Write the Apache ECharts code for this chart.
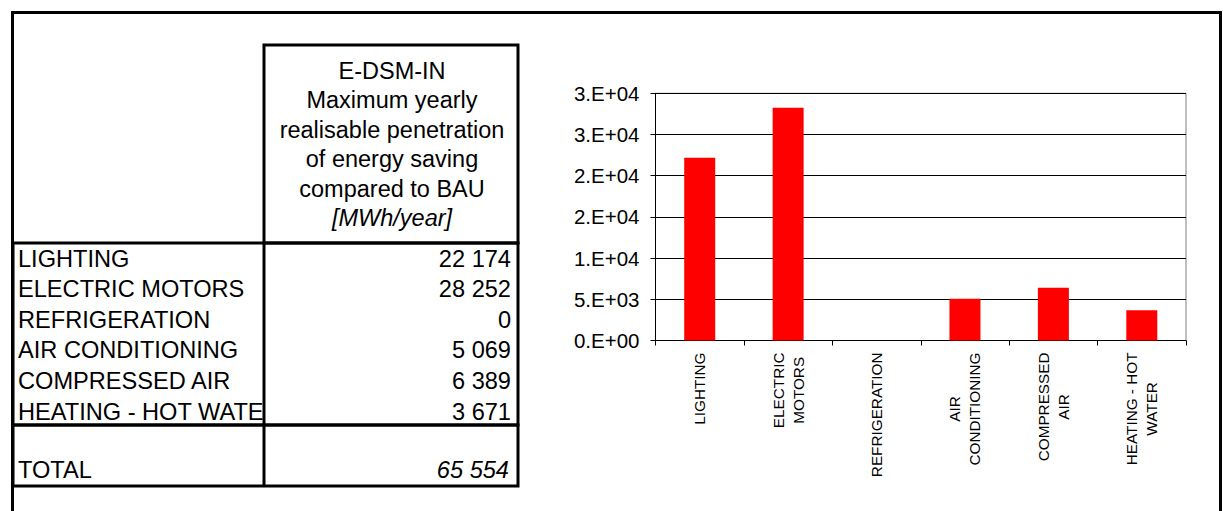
<!DOCTYPE html>
<html>
<head>
<meta charset="utf-8">
<script src="https://cdn.jsdelivr.net/npm/echarts@6/dist/echarts.min.js"></script>
<style>
html,body{margin:0;padding:0;background:#fff;}
#chart{width:1223px;height:511px;}
</style>
</head>
<body>
<div id="chart"></div>
<script>
// ---- data ----
var rowLabels = ['LIGHTING', 'ELECTRIC MOTORS', 'REFRIGERATION', 'AIR CONDITIONING', 'COMPRESSED AIR', 'HEATING - HOT WATER'];
var categories = ['LIGHTING', 'ELECTRIC\nMOTORS', 'REFRIGERATION', 'AIR\nCONDITIONING', 'COMPRESSED\nAIR', 'HEATING - HOT\nWATER'];
var values = [22174, 28252, 0, 5069, 6389, 3671];
var totalLabel = 'TOTAL';
var totalValue = 65554;
var headerLines = ['E-DSM-IN', 'Maximum yearly', 'realisable penetration', 'of energy saving', 'compared to BAU', '[MWh/year]'];
var yTickLabels = ['0.E+00', '5.E+03', '1.E+04', '2.E+04', '2.E+04', '3.E+04', '3.E+04'];

var FONT = "'Liberation Sans', Arial, sans-serif";

function fmt(v) {
  return String(v).replace(/\B(?=(\d{3})+(?!\d))/g, ' ');
}

// ---- table graphics ----
var g = [];
g.push({type: 'rect', shape: {x: 12.5, y: 12.5, width: 1208, height: 600}, style: {fill: null, stroke: '#000', lineWidth: 3}, z: 1});
g.push({type: 'rect', shape: {x: 264, y: 45, width: 254, height: 198}, style: {fill: null, stroke: '#000', lineWidth: 3}, z: 2});
g.push({type: 'rect', shape: {x: 13, y: 243, width: 505, height: 182}, style: {fill: null, stroke: '#000', lineWidth: 3}, z: 2});
g.push({type: 'rect', shape: {x: 13, y: 425, width: 505, height: 61}, style: {fill: null, stroke: '#000', lineWidth: 3}, z: 2});
g.push({type: 'line', shape: {x1: 264, y1: 243, x2: 264, y2: 486}, style: {stroke: '#000', lineWidth: 3}, z: 3});

headerLines.forEach(function (t, i) {
  g.push({
    type: 'text', x: 392, y: 70.5 + i * 29.5, z: 4,
    style: {text: t, font: (i === headerLines.length - 1 ? 'italic ' : '') + '23.5px ' + FONT,
      fill: '#000', align: 'center', verticalAlign: 'middle'}
  });
});

rowLabels.forEach(function (t, i) {
  var y = 258.5 + i * 30.6;
  g.push({
    type: 'text', x: 18, y: y, z: 4,
    style: {text: t, font: '23.6px ' + FONT, fill: '#000', align: 'left', verticalAlign: 'middle',
      width: 247, overflow: 'truncate', ellipsis: ''}
  });
  g.push({
    type: 'text', x: 511, y: y, z: 4,
    style: {text: fmt(values[i]), font: '23.6px ' + FONT, fill: '#000', align: 'right', verticalAlign: 'middle'}
  });
});
g.push({type: 'text', x: 18, y: 470, z: 4,
  style: {text: totalLabel, font: '23.6px ' + FONT, fill: '#000', align: 'left', verticalAlign: 'middle'}});
g.push({type: 'text', x: 509, y: 470, z: 4,
  style: {text: fmt(totalValue), font: 'italic 23.6px ' + FONT, fill: '#000', align: 'right', verticalAlign: 'middle'}});

// ---- chart ----
var chart = echarts.init(document.getElementById('chart'), null, {renderer: 'svg'});
chart.setOption({
  animation: false,
  backgroundColor: '#fff',
  textStyle: {fontFamily: FONT},
  grid: {left: 655.5, right: 37, top: 93.3, bottom: 170.5, show: true, borderColor: '#808080', borderWidth: 1, backgroundColor: 'transparent'},
  xAxis: {
    type: 'category',
    data: categories,
    axisLine: {lineStyle: {color: '#000', width: 1}},
    axisTick: {show: true, length: 5, lineStyle: {color: '#000'}},
    axisLabel: {
      rotate: 90, margin: 12, interval: 0,
      fontSize: 15.3, lineHeight: 20, color: '#000', fontFamily: FONT,
      formatter: function (v) {
        return v.split('\n').map(function (l) { return '{c|' + l + '}'; }).join('\n');
      },
      rich: {c: {align: 'center', fontSize: 15.3, lineHeight: 20, color: '#000', fontFamily: FONT}}
    }
  },
  yAxis: {
    type: 'value', min: 0, max: 30000, interval: 5000,
    axisLine: {show: true, lineStyle: {color: '#000', width: 1}},
    axisTick: {show: true, length: 5, lineStyle: {color: '#000'}},
    splitLine: {show: true, lineStyle: {color: '#000', width: 1}},
    axisLabel: {
      margin: 16, fontSize: 20.5, color: '#000', fontFamily: FONT,
      formatter: function (v) { return yTickLabels[Math.round(v / 5000)]; }
    }
  },
  series: [{
    type: 'bar', data: values, barWidth: 31,
    itemStyle: {color: '#FF0000'}
  }],
  graphic: g
});
</script>
</body>
</html>
